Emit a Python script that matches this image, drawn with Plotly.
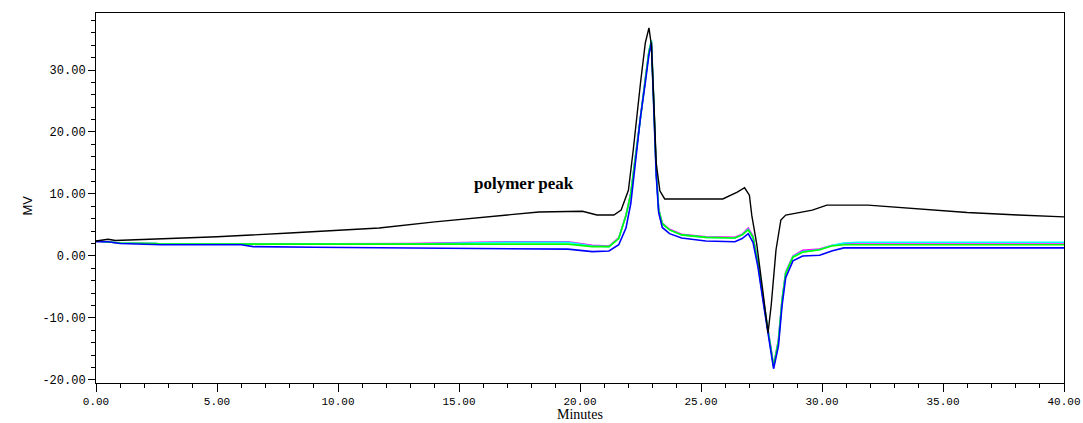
import plotly.graph_objects as go

# Retention time grid for the reference (black) trace, minutes
t_black = [0, 0.5, 0.8, 2.5, 5, 8, 11.7, 14, 16, 18.3, 20.1, 20.7, 21.4, 21.7, 22.0,
           22.2, 22.5, 22.7, 22.85, 22.95, 23.05, 23.15, 23.3, 23.5, 25.9, 26.5, 26.8,
           27.0, 27.1, 27.3, 27.55, 27.77, 27.9, 28.1, 28.3, 28.5, 29.6, 30.2, 31.9,
           33.9, 36, 38.1, 40]
mv_black = [2.4, 2.7, 2.5, 2.7, 3.1, 3.7, 4.5, 5.5, 6.3, 7.1, 7.2, 6.6, 6.6, 7.4, 10.6,
            17.1, 27.9, 34.4, 36.8, 34.0, 25.0, 15.0, 10.5, 9.2, 9.2, 10.3, 11.0,
            9.8, 6.5, 2.0, -5.5, -12.4, -8.0, 1.0, 5.8, 6.6, 7.4, 8.2, 8.2,
            7.6, 7.0, 6.6, 6.3]

# Retention time grid shared by the four sample traces, minutes
t_samples = [0, 0.5, 1.0, 2.5, 2.7, 6, 6.5, 9, 13, 17, 19.5, 20.5, 21.2, 21.6, 21.9,
             22.1, 22.3, 22.5, 22.7, 22.85, 22.95, 23.05, 23.15, 23.25, 23.4, 23.7,
             24.2, 25.2, 26.4, 26.7, 26.95, 27.15, 27.35, 27.6, 27.8, 28.0, 28.2,
             28.35, 28.5, 28.8, 29.2, 29.9, 30.4, 30.9, 31.5, 35, 40]

mv_magenta = [2.4, 2.3, 2.1, 2.0, 1.9, 1.9, 1.9, 1.9, 2.0, 2.3, 2.3, 1.7, 1.6, 2.9, 6.6,
              10.2, 16.6, 23.1, 28.6, 33.1, 34.6, 24.6, 13.6, 7.6, 5.3, 4.3,
              3.5, 3.1, 3.0, 3.5, 4.5, 3.2, -1.0, -7.6, -13.0, -17.6, -13.5,
              -7.0, -2.6, 0.0, 0.9, 1.1, 1.7, 2.0, 2.1, 2.1, 2.1]

mv_cyan = [2.4, 2.3, 2.1, 2.0, 1.9, 1.9, 1.9, 1.9, 1.9, 2.2, 2.2, 1.6, 1.5, 2.8, 6.5,
           10.1, 16.5, 23.0, 28.5, 33.0, 34.8, 24.5, 13.5, 7.5, 5.2, 4.2,
           3.4, 3.0, 2.9, 3.4, 4.3, 3.0, -1.1, -7.7, -13.1, -17.8, -13.7,
           -7.1, -2.7, -0.1, 0.7, 1.0, 1.7, 2.1, 2.2, 2.2, 2.2]

mv_green = [2.4, 2.3, 2.1, 2.0, 1.9, 1.9, 1.9, 1.9, 1.9, 1.9, 1.9, 1.5, 1.5, 2.8, 6.5,
            10.0, 16.5, 23.0, 28.5, 33.0, 34.6, 24.5, 13.5, 7.5, 5.2, 4.2,
            3.4, 3.0, 2.9, 3.4, 4.2, 3.0, -1.2, -7.8, -13.2, -17.8, -13.8,
            -7.2, -2.8, -0.2, 0.6, 1.0, 1.6, 1.8, 1.8, 1.8, 1.8]

mv_blue = [2.3, 2.3, 2.0, 1.9, 1.8, 1.8, 1.5, 1.4, 1.3, 1.2, 1.1, 0.7, 0.8, 1.8, 4.5,
           8.5, 15.5, 22.4, 28.0, 32.5, 34.4, 24.0, 13.0, 7.0, 4.6, 3.6,
           2.9, 2.4, 2.3, 2.8, 3.6, 2.2, -1.7, -8.2, -13.5, -18.2, -14.5,
           -8.0, -3.5, -0.8, 0.0, 0.1, 0.8, 1.3, 1.3, 1.3, 1.3]

# Axis tick positions and their printed labels
x_ticks = [0, 5, 10, 15, 20, 25, 30, 35, 40]
x_labels = ["0.00", "5.00", "10.00", "15.00", "20.00", "25.00", "30.00", "35.00", "40.00"]
y_ticks = [-20, -10, 0, 10, 20, 30]
y_labels = ["-20.00", "-10.00", "0.00", "10.00", "20.00", "30.00"]

sample_series = [
    ("#ff00ff", mv_magenta),
    ("#00ffff", mv_cyan),
    ("#00ff00", mv_green),
    ("#0000ff", mv_blue),
]

fig = go.Figure()
for color, values in sample_series:
    fig.add_trace(go.Scatter(x=t_samples, y=values, mode="lines",
                             line=dict(color=color, width=1.6), showlegend=False))
fig.add_trace(go.Scatter(x=t_black, y=mv_black, mode="lines",
                         line=dict(color="#000000", width=1.4), showlegend=False))

# Peak label inside the plot
fig.add_annotation(x=17.7, y=11.7, text="<b>polymer peak</b>", showarrow=False,
                   font=dict(family="Liberation Serif", size=17, color="#000000"))

# Axis titles placed as paper-anchored text
fig.add_annotation(xref="paper", yref="paper", x=0.5, y=-0.108, yanchor="bottom",
                   text="Minutes", showarrow=False, borderpad=0,
                   font=dict(family="Liberation Serif", size=14, color="#000000"))
fig.add_annotation(xref="paper", yref="paper", x=-0.081, y=0.48, textangle=-90,
                   text="MV", showarrow=False,
                   font=dict(family="Liberation Sans", size=13, color="#000000"))

x_tick_font = dict(family="Liberation Mono", size=11, color="#000000")
y_tick_font = dict(family="Liberation Mono", size=12, color="#000000")

fig.update_layout(
    width=1083, height=423,
    margin=dict(l=96, r=19, t=13, b=40),
    paper_bgcolor="#ffffff", plot_bgcolor="#ffffff",
    xaxis=dict(
        range=[0, 40], tickmode="array", tickvals=x_ticks, ticktext=x_labels,
        automargin=False, showgrid=False, zeroline=False,
        showline=True, linecolor="#000000", linewidth=1, mirror=True,
        ticks="outside", ticklen=8, tickcolor="#000000", tickwidth=1,
        minor=dict(dtick=1, tick0=0, ticks="outside", ticklen=4,
                   tickcolor="#000000", showgrid=False),
        tickfont=x_tick_font,
    ),
    yaxis=dict(
        range=[-20.5, 39.2], tickmode="array", tickvals=y_ticks, ticktext=y_labels,
        automargin=False, showgrid=False, zeroline=False,
        showline=True, linecolor="#000000", linewidth=1, mirror=True,
        ticks="outside", ticklen=7, tickcolor="#000000", tickwidth=1,
        minor=dict(dtick=2, tick0=0, ticks="outside", ticklen=4,
                   tickcolor="#000000", showgrid=False),
        tickfont=y_tick_font,
    ),
)

fig.write_html("out.html")
